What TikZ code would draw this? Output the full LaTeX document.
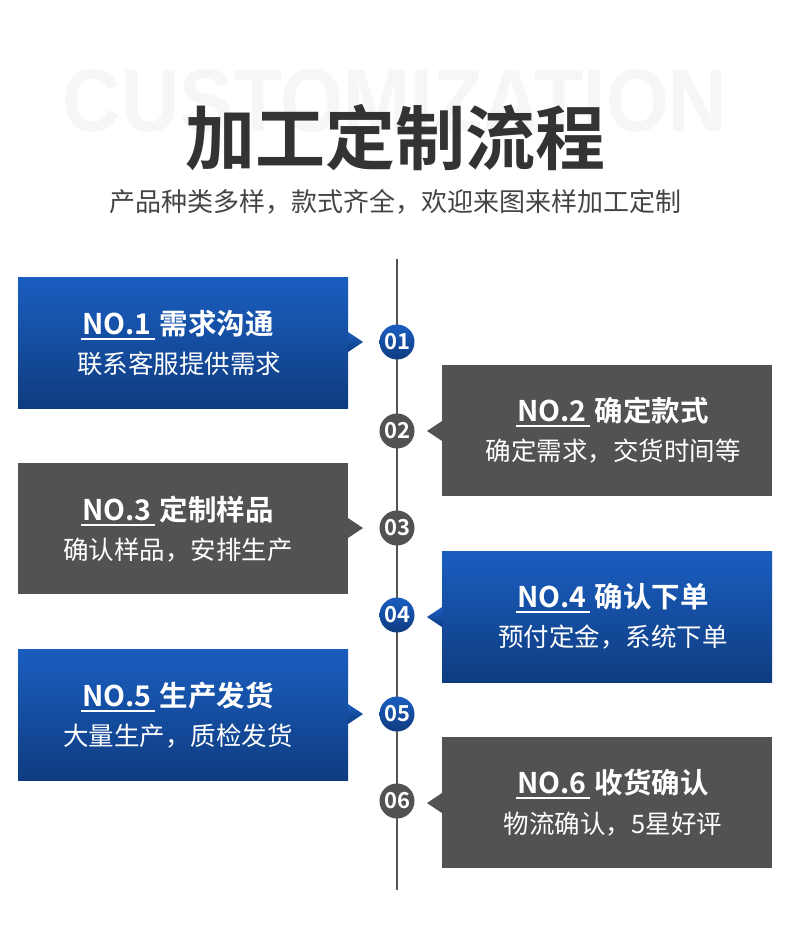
\documentclass[tikz,border=0pt]{standalone}
\usepackage{fontspec}
\setmainfont{Noto Sans CJK SC}
\newfontfamily\cjkbold{Noto Sans CJK SC Bold}
\newfontfamily\cjkreg{Noto Sans CJK SC}
\newfontfamily\wmfont{Liberation Sans}
\definecolor{bluetop}{HTML}{1A5EC0}
\definecolor{bluebot}{HTML}{0F3C80}
\definecolor{boxgray}{HTML}{525252}
\definecolor{linegray}{HTML}{555555}
\definecolor{titlegray}{HTML}{333333}
\definecolor{subgray}{HTML}{444444}
\definecolor{wmgray}{HTML}{F6F6F6}
\newcommand{\nohead}[1]{\setbox0\hbox{#1}\rlap{\hspace{-1pt}\rule[-6pt]{\dimexpr\wd0+4pt\relax}{2.4pt}}\box0}
\tikzset{
  bluebox/.style={top color=bluetop, bottom color=bluebot, draw=none},
  graybox/.style={fill=boxgray, draw=none},
  bluedot/.style={circle, minimum size=35pt, inner sep=0pt, top color=bluetop, bottom color=bluebot, text=white, font=\cjkbold\fontsize{22}{22}\selectfont},
  graydot/.style={circle, minimum size=35pt, inner sep=0pt, fill=boxgray, text=white, font=\cjkbold\fontsize{22}{22}\selectfont},
  headtxt/.style={text=white, font=\cjkbold\fontsize{28.5}{28.5}\selectfont, inner sep=0pt},
  subtxt/.style={text=white, font=\cjkreg\fontsize{25.5}{25.5}\selectfont, inner sep=0pt},
}
\begin{document}
\begin{tikzpicture}[x=1pt,y=-1pt]
\useasboundingbox (0,0) rectangle (790,933);
\fill[white] (0,0) rectangle (790,933);
% watermark
\node[text=wmgray, inner sep=0pt, anchor=center] (wm) at (395,101) {\resizebox{664pt}{62pt}{\wmfont\bfseries CUSTOMIZATION}};
% title
\node[text=titlegray, inner sep=0pt, font=\cjkbold\fontsize{70}{70}\selectfont] (title) at (395,138) {加工定制流程};
\node[text=subgray, inner sep=0pt, font=\cjkreg\fontsize{26}{26}\selectfont] (subtitle) at (395,202) {产品种类多样，款式齐全，欢迎来图来样加工定制};
% timeline
\coordinate (ltop) at (397,259);
\coordinate (lbot) at (397,890);
\draw[linegray, line width=2pt] (ltop) -- (lbot);
% boxes left
\foreach \name/\top/\sty in {b1/277/bluebox, b3/463/graybox, b5/649/bluebox}{
  \path[\sty] (18,\top) rectangle (348,\top+131);
  \path[\sty] (348,\top+55) -- (363,\top+65) -- (348,\top+75) -- cycle;
}
\foreach \name/\top/\sty in {b2/365/graybox, b4/551/bluebox, b6/737/graybox}{
  \path[\sty] (442,\top) rectangle (772,\top+131);
  \path[\sty] (442,\top+56) -- (427,\top+66) -- (442,\top+76) -- cycle;
}
% dots
\node[bluedot] (d1) at (397,342) {01};
\node[graydot] (d2) at (397,431) {02};
\node[graydot] (d3) at (397,528) {03};
\node[bluedot] (d4) at (397,615) {04};
\node[bluedot] (d5) at (397,714) {05};
\node[graydot] (d6) at (397,801) {06};
% texts
\node[headtxt] (h1) at (178,325) {\nohead{NO.1}\hspace{8pt}需求沟通};
\node[subtxt] (s1) at (179,364) {联系客服提供需求};
\node[headtxt] (h2) at (613,412) {\nohead{NO.2}\hspace{8pt}确定款式};
\node[subtxt] (s2) at (613,451) {确定需求，交货时间等};
\node[headtxt] (h3) at (178,511) {\nohead{NO.3}\hspace{8pt}定制样品};
\node[subtxt] (s3) at (178,550) {确认样品，安排生产};
\node[headtxt] (h4) at (613,598) {\nohead{NO.4}\hspace{8pt}确认下单};
\node[subtxt] (s4) at (613,637) {预付定金，系统下单};
\node[headtxt] (h5) at (178,697) {\nohead{NO.5}\hspace{8pt}生产发货};
\node[subtxt] (s5) at (178,736) {大量生产，质检发货};
\node[headtxt] (h6) at (613,784) {\nohead{NO.6}\hspace{8pt}收货确认};
\node[subtxt] (s6) at (613,824) {物流确认，5星好评};
\end{tikzpicture}
\end{document}
